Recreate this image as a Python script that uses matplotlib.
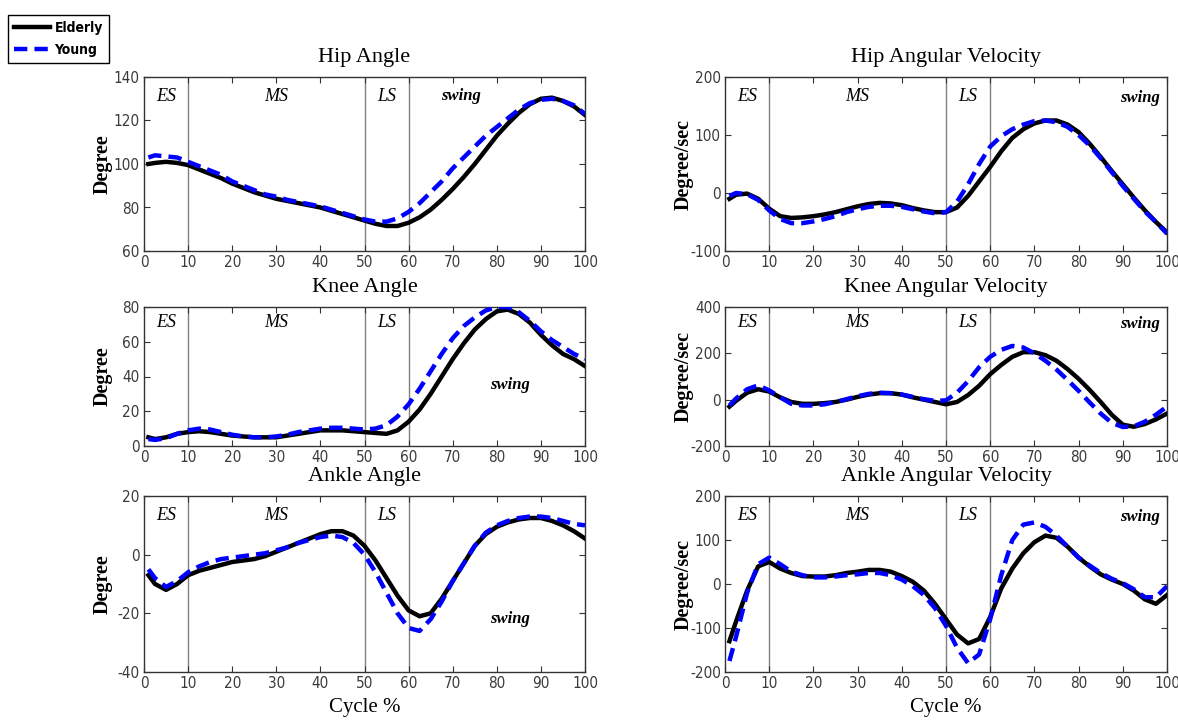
import numpy as np
import matplotlib
matplotlib.use('Agg')
import matplotlib.pyplot as plt
import matplotlib.transforms as mtransforms

plt.rcParams['axes.unicode_minus'] = False

SERIF = ['Liberation Serif', 'DejaVu Serif']
NARROW = ['DejaVu Sans']

# gait cycle positions (%)
cycle = [1, 2.5, 5, 7.5, 10, 12.5, 15, 17.5, 20, 22.5, 25, 27.5, 30, 32.5, 35, 37.5,
         40, 42.5, 45, 47.5, 50, 52.5, 55, 57.5, 60, 62.5, 65, 67.5, 70, 72.5, 75,
         77.5, 80, 82.5, 85, 87.5, 90, 92.5, 95, 97.5, 100]

hip_angle_elderly = [100, 100.5, 101, 100.5, 99.5, 97.5, 95.5, 93.5, 91, 89, 87, 85.5, 84, 83,
                     82, 81, 80, 78.5, 77, 75.5, 74, 72.5, 71.5, 71.5, 73, 75.5, 79, 83.5, 88.5,
                     94, 100, 106.5, 113, 118.5, 123.5, 127.5, 130, 130.5, 129, 126.5, 122.5]
hip_angle_young = [103, 104, 103.5, 103, 101, 99, 97, 95, 92, 90, 88, 86, 85, 83.5, 82.5, 81.5,
                   80.5, 79, 77.5, 76, 74.5, 73.5, 73.5, 75, 78, 82, 87, 92, 98, 103, 108, 113,
                   117, 121, 125, 128, 129.5, 130, 129, 127, 123]

hip_vel_elderly = [-10, -3, -1, -10, -27, -40, -43, -42, -40, -37, -33, -28, -23, -19, -17, -18,
                   -21, -26, -30, -33, -33, -25, -5, 20, 45, 72, 95, 110, 120, 125, 125, 118,
                   105, 85, 62, 38, 15, -8, -30, -50, -68]
hip_vel_young = [-5, 0, -2, -12, -30, -45, -52, -52, -49, -45, -40, -33, -28, -24, -22, -22,
                 -24, -28, -32, -35, -33, -15, 15, 50, 80, 98, 110, 118, 124, 125, 122, 114,
                 100, 82, 60, 36, 12, -10, -32, -50, -70]

knee_angle_elderly = [5, 4, 5, 7, 8, 8.5, 8, 7, 6, 5.5, 5, 5, 5, 6, 7, 8, 9, 9, 9, 8.5, 8, 7.5,
                      7, 9, 14, 21, 30, 40, 50, 59, 67, 73, 77.5, 78.5, 76, 71, 64, 58, 53, 50, 46]
knee_angle_young = [4, 3.5, 4.5, 7, 9, 10, 9.5, 8, 6.5, 5.5, 5, 5, 5.5, 6.5, 8, 9, 10, 10.5,
                    10.5, 10, 9.5, 10, 12, 17, 24, 33, 43, 53, 62, 69, 74, 78, 80, 80, 77, 72,
                    66, 61, 57, 53, 50]

knee_vel_elderly = [-30, -5, 30, 45, 35, 10, -10, -18, -18, -15, -10, 0, 12, 22, 28, 28, 22, 10,
                    0, -10, -20, -10, 20, 60, 110, 150, 185, 205, 205, 192, 168, 132, 90, 42,
                    -10, -65, -108, -117, -105, -85, -60]
knee_vel_young = [-25, 5, 45, 62, 40, 10, -18, -25, -25, -20, -10, 2, 15, 25, 30, 28, 22, 12, 2,
                  -5, -3, 30, 80, 140, 185, 215, 232, 225, 200, 168, 130, 85, 38, -12, -60,
                  -100, -118, -115, -95, -65, -30]

ankle_angle_elderly = [-7, -10, -12, -10, -7, -5.5, -4.5, -3.5, -2.5, -2, -1.5, -0.5, 1, 2.5, 4,
                       5.5, 7, 8, 8, 6.5, 3, -2, -8, -14, -19, -21, -20, -15, -9, -3, 3, 7, 9.5,
                       11, 12, 12.5, 12.5, 11.5, 10, 8, 5.5]
ankle_angle_young = [-5, -8, -11, -9, -6, -4, -2.5, -1.5, -1, -0.5, 0, 0.5, 1.5, 2.5, 4, 5, 6,
                     6.5, 6, 4, 0, -6, -13, -20, -25, -26, -22, -16, -9, -3, 3, 7.5, 10, 11.5,
                     12.5, 13, 13, 12.5, 11.5, 10.5, 10]

ankle_vel_elderly = [-130, -85, -15, 40, 50, 35, 25, 18, 17, 17, 20, 25, 28, 32, 32, 28, 18, 5,
                     -15, -45, -80, -115, -135, -125, -75, -10, 35, 70, 95, 110, 105, 85, 60, 40,
                     22, 10, 0, -15, -35, -45, -25]
ankle_vel_young = [-175, -120, -20, 45, 60, 45, 28, 20, 15, 15, 17, 20, 22, 25, 25, 20, 10, -5,
                   -25, -55, -95, -145, -180, -160, -80, 20, 100, 135, 140, 130, 110, 85, 60, 42,
                   25, 12, 2, -12, -30, -30, -5]

titles = ['Hip Angle', 'Hip Angular Velocity', 'Knee Angle', 'Knee Angular Velocity',
          'Ankle Angle', 'Ankle Angular Velocity']
ylabels = ['Degree', 'Degree/sec'] * 3
ylims = [(60, 140), (-100, 200), (0, 80), (-200, 400), (-40, 20), (-200, 200)]
yticks = [np.arange(60, 141, 20), np.arange(-100, 201, 100), np.arange(0, 81, 20),
          np.arange(-200, 401, 200), np.arange(-40, 21, 20), np.arange(-200, 201, 100)]
elderly = [hip_angle_elderly, hip_vel_elderly, knee_angle_elderly, knee_vel_elderly,
           ankle_angle_elderly, ankle_vel_elderly]
young = [hip_angle_young, hip_vel_young, knee_angle_young, knee_vel_young,
         ankle_angle_young, ankle_vel_young]
phase_lines = [10, 50, 60]
# (x, axes-fraction y) for the "swing" label in each panel
swing_pos = [(72, 0.89), (94, 0.88), (83, 0.44), (94, 0.88), (83, 0.30), (94, 0.88)]

W, H = 1178, 720
fig = plt.figure(figsize=(W / 100, H / 100), dpi=100)
fig.patch.set_facecolor('white')

cols = [(144, 441), (725, 442)]
rows = [(77, 174), (307, 139), (496, 176)]
ylabel_x = [113, 694]   # right edge of the rotated y label, px

axes = []
for i in range(6):
    r, c = divmod(i, 2)
    left, width = cols[c]
    top, height = rows[r]
    ax = fig.add_axes([left / W, 1 - (top + height) / H, width / W, height / H])
    axes.append(ax)

    for xv in phase_lines:
        ax.axvline(xv, color='#808080', lw=1.0, zorder=1)
    ax.plot(cycle, elderly[i], color='black', lw=3.2, zorder=3, label='Elderly')
    ax.plot(cycle, young[i], color='#0000ff', lw=3.2, ls=(0, (3, 1.6)), zorder=4, label='Young')

    ax.set_xlim(0, 100)
    ax.set_ylim(*ylims[i])
    ax.set_xticks(np.arange(0, 101, 10))
    ax.set_yticks(yticks[i])
    ax.tick_params(direction='in', top=True, right=True, length=4, width=0.8,
                   colors='#333333', labelcolor='#3a3a3a', labelsize=11, pad=3)
    for lab in ax.get_xticklabels() + ax.get_yticklabels():
        lab.set_fontfamily(NARROW)
        lab.set_fontstretch('condensed')
    for sp in ax.spines.values():
        sp.set_color('#333333')
        sp.set_linewidth(1.0)

    ax.set_title(titles[i], family=SERIF, fontsize=16, pad=11)
    ax.set_ylabel(ylabels[i], family=SERIF, fontsize=14.5, fontweight='bold')
    ax.yaxis.set_label_coords((ylabel_x[c] - left) / width, 0.5)
    if r == 2:
        ax.set_xlabel('Cycle %', family=SERIF, fontsize=15, labelpad=5)

    trans = mtransforms.blended_transform_factory(ax.transData, ax.transAxes)
    for name, xp in [('ES', 5), ('MS', 30), ('LS', 55)]:
        ax.text(xp, 0.89, name, transform=trans, family=SERIF, style='italic',
                fontsize=13, ha='center', va='center')
    sx, sy = swing_pos[i]
    ax.text(sx, sy, 'swing', transform=trans, family=SERIF, style='italic',
            fontweight='bold', fontsize=12, ha='center', va='center')

handles, labels = axes[0].get_legend_handles_labels()
leg = fig.legend(handles, labels, loc='upper left', bbox_to_anchor=(8 / W, 1 - 15 / H),
                 borderaxespad=0,
                 prop={'family': NARROW, 'weight': 'bold', 'size': 10, 'stretch': 'condensed'},
                 handlelength=2.6, handletextpad=0.3, borderpad=0.45, labelspacing=0.55,
                 fancybox=False, framealpha=1, edgecolor='black')
leg.get_frame().set_linewidth(1.0)

fig.savefig('out.png', dpi=100)
